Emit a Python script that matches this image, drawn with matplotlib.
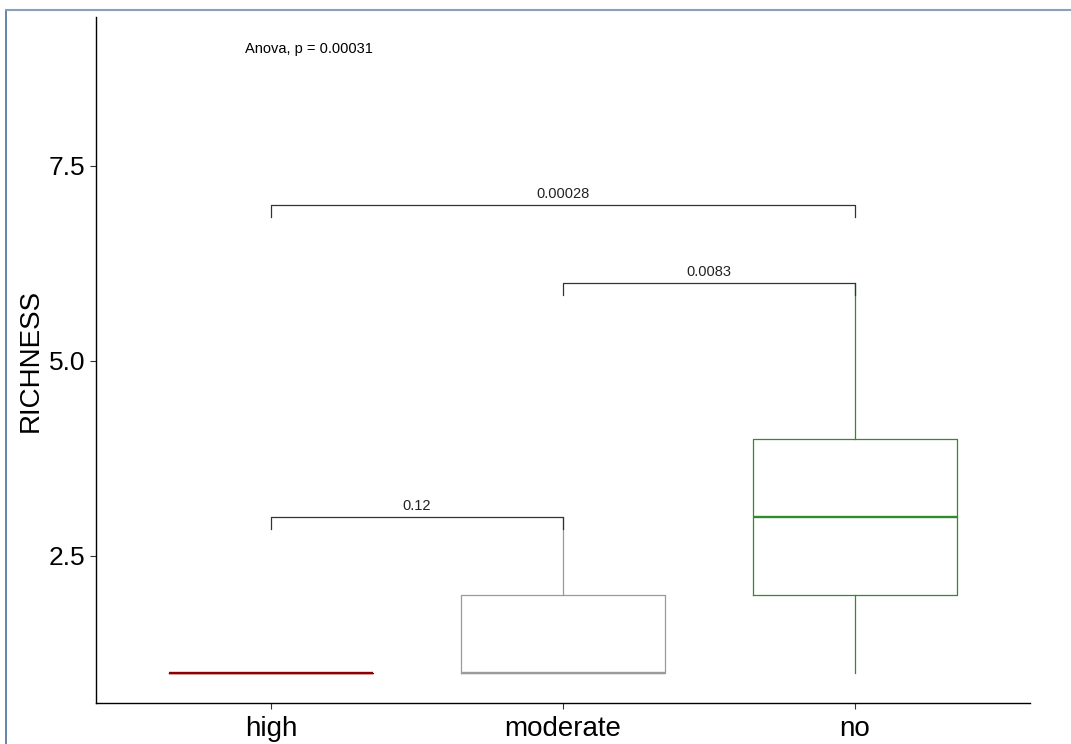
import matplotlib.pyplot as plt
from matplotlib.lines import Line2D

plt.rcParams['font.family'] = ['Liberation Sans', 'DejaVu Sans']

# Data
groups = ['high', 'moderate', 'no']
q1 = [1.0, 1.0, 2.0]
median = [1.0, 1.0, 3.0]
q3 = [1.0, 2.0, 4.0]
whisker_low = [1.0, 1.0, 1.0]
whisker_high = [1.0, 3.0, 6.0]
colors = ['#8B0000', '#9a9a9a', '#2E8B2E']

# pairwise comparisons: (group a, group b, bracket height, label)
comparisons = [
    ('high', 'moderate', 3.0, '0.12'),
    ('moderate', 'no', 6.0, '0.0083'),
    ('high', 'no', 7.0, '0.00028'),
]
anova_label = 'Anova, p = 0.00031'

fig = plt.figure(figsize=(10.71, 7.44), dpi=100)
ax = fig.add_axes([0.0896, 0.0551, 0.8721, 0.9221])

positions = list(range(1, len(groups) + 1))
for i, g in enumerate(groups):
    stats = [{
        'q1': q1[i], 'med': median[i], 'q3': q3[i],
        'whislo': whisker_low[i], 'whishi': whisker_high[i], 'fliers': [],
    }]
    c = colors[i]
    ax.bxp(stats, positions=[positions[i]], widths=0.7, showcaps=False,
           boxprops=dict(color=c, linewidth=0.9),
           whiskerprops=dict(color=c, linewidth=0.9),
           medianprops=dict(color=c, linewidth=1.7),
           manage_ticks=False)

# comparison brackets
tick_len = 0.155
for a, b, y, lab in comparisons:
    xa = groups.index(a) + 1
    xb = groups.index(b) + 1
    ax.plot([xa, xa, xb, xb], [y - tick_len, y, y, y - tick_len],
            color='#333333', linewidth=0.9, zorder=5)
    ax.text((xa + xb) / 2, y + 0.05, lab, ha='center', va='bottom',
            fontsize=10.5, color='#222222')

ax.text(0.911, 9.0, anova_label, ha='left', va='center', fontsize=10.5)

ax.set_xlim(0.4, 3.6)
ax.set_ylim(0.615, 9.41)
ax.set_xticks(positions)
ax.set_xticklabels(groups)
ax.set_yticks([2.5, 5.0, 7.5])
ax.set_yticklabels(['2.5', '5.0', '7.5'])
ax.tick_params(length=4, width=0.8, color='#333333', labelcolor='black')
ax.tick_params(axis='x', labelsize=20, pad=5)
ax.tick_params(axis='y', labelsize=19)
ax.set_ylabel('RICHNESS', fontsize=20, labelpad=4)

for s in ['top', 'right']:
    ax.spines[s].set_visible(False)
for s in ['left', 'bottom']:
    ax.spines[s].set_linewidth(1.0)

# screenshot frame lines
fig.add_artist(Line2D([6 / 1071, 6 / 1071], [0, 1 - 10 / 744],
                      color='#4a6f9c', linewidth=1.2))
fig.add_artist(Line2D([6 / 1071, 1], [1 - 10 / 744, 1 - 10 / 744],
                      color='#8aa0b8', linewidth=1.5))

fig.savefig('out.png', dpi=100)
